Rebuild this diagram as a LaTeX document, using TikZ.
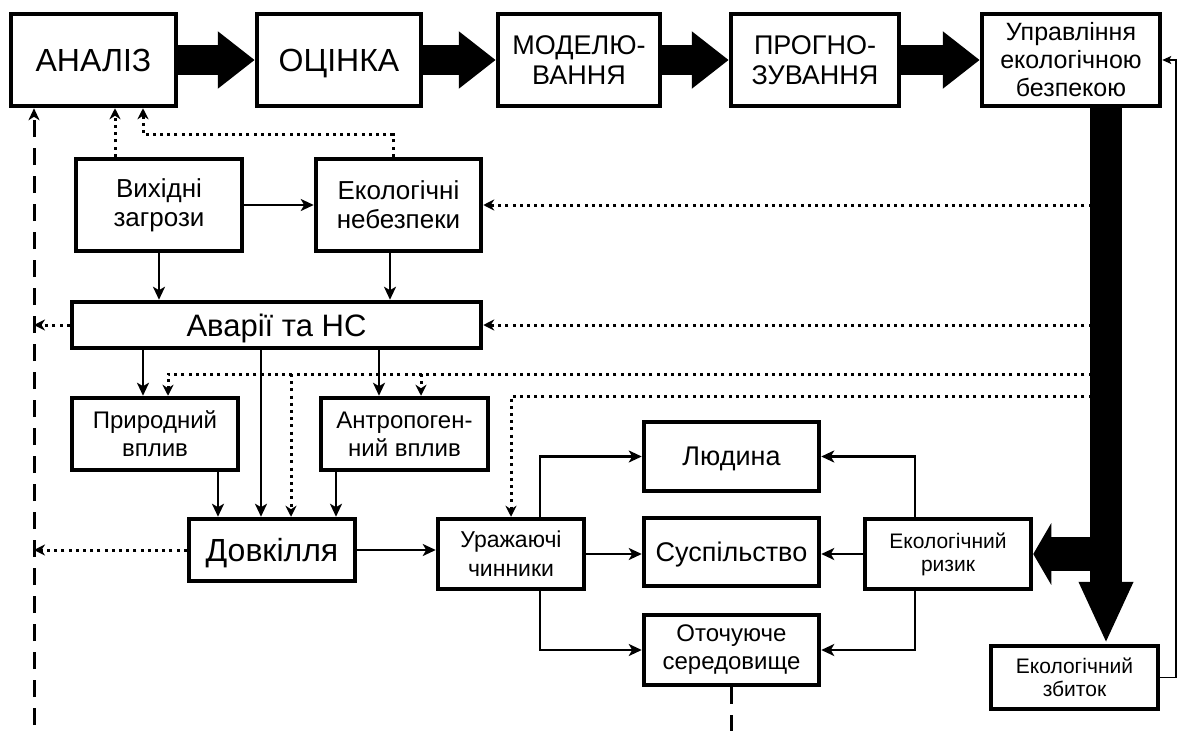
\documentclass[tikz,border=0pt]{standalone}
\usepackage{fontspec}
\setmainfont{Liberation Sans}
\usetikzlibrary{arrows.meta,calc}
\begin{document}
\begin{tikzpicture}[x=1pt,y=-1pt,
 box/.style={draw,line width=4.5pt,align=center,inner sep=0pt},
 one/.style={text depth=0pt},
 fs/.style 2 args={font=\fontsize{#1}{#2}\selectfont},
 arr/.style={line width=2.6pt,-{Stealth[length=13pt,width=12pt,inset=3.5pt]}},
 dotarr/.style={line width=3pt,dash pattern=on 3pt off 4.2pt,-{Stealth[length=11pt,width=11pt,inset=3.5pt]}},
 dashln/.style={line width=3pt,dash pattern=on 17pt off 11pt},
 dasharr/.style={dashln,-{Stealth[length=12pt,width=11pt,inset=3.5pt]}},
 bigarr/.style={line width=30pt,-{Triangle[length=37pt,width=55pt]}},
 thinarr/.style={line width=1.6pt,-{Stealth[length=9pt,width=8pt,inset=2pt]}}
]
\useasboundingbox (0,0) rectangle (1178,731);
% top row
\node[box,one,fs={32}{36},minimum width=165,minimum height=92] (anal) at (93.5,60) {АНАЛІЗ};
\node[box,one,fs={32}{36},minimum width=164,minimum height=92] (ocin) at (339,60) {ОЦІНКА};
\node[box,fs={27}{30},minimum width=162,minimum height=92] (model) at (579,60) {МОДЕЛЮ-\\ВАННЯ};
\node[box,fs={27}{30},minimum width=168,minimum height=92] (prog) at (815,60) {ПРОГНО-\\ЗУВАННЯ};
\node[box,fs={25}{28},minimum width=178,minimum height=92] (upr) at (1071,60) {Управління\\екологічною\\безпекою};
% second level
\node[box,fs={26}{29},minimum width=166,minimum height=92] (vyh) at (159,205) {Вихідні\\загрози};
\node[box,fs={26}{29},minimum width=165,minimum height=92] (eknb) at (398.5,205) {Екологічні\\небезпеки};
\node[box,one,fs={31}{34},minimum width=409,minimum height=46] (avar) at (276.5,325) {Аварії та НС};
\node[box,fs={24}{28},minimum width=166,minimum height=72] (pryr) at (155,434) {Природний\\вплив};
\node[box,fs={24}{28},minimum width=167,minimum height=72] (antr) at (404.5,434) {Антропоген-\\ний вплив};
\node[box,one,fs={32}{36},minimum width=166,minimum height=62] (dovk) at (272,550) {Довкілля};
\node[box,fs={23}{29},minimum width=146,minimum height=70] (urazh) at (511,554) {Уражаючі\\чинники};
\node[box,one,fs={27}{30},minimum width=175,minimum height=69] (lyud) at (731.5,456.5) {Людина};
\node[box,one,fs={27}{30},minimum width=175,minimum height=68] (susp) at (731.5,552) {Суспільство};
\node[box,fs={24}{28},minimum width=175,minimum height=70] (otoch) at (731.5,650) {Оточуюче\\середовище};
\node[box,fs={21}{23},minimum width=166,minimum height=70] (ryzyk) at (948,554) {Екологічний\\ризик};
\node[box,fs={21}{23},minimum width=167,minimum height=63] (zbytok) at (1074.5,677.5) {Екологічний\\збиток};
% helper coordinates
\coordinate (xd) at (34,0);
\coordinate (dbot) at (34,725);
\coordinate (ybot) at (0,731);
\coordinate (x115) at (115,0);
\coordinate (x143) at (143,0);
\coordinate (x168) at (168,0);
\coordinate (x218) at (218,0);
\coordinate (x261) at (261,0);
\coordinate (x291) at (291,0);
\coordinate (x336) at (336,0);
\coordinate (x379) at (379,0);
\coordinate (x390) at (390,0);
\coordinate (x393) at (393,0);
\coordinate (x421) at (421,0);
\coordinate (x540) at (540,0);
\coordinate (x915) at (915,0);
\coordinate (barx) at (1106,0);
\coordinate (r374) at (1106,374);
\coordinate (r396) at (1106,396);
% big arrows along the top
\draw[bigarr] (anal.east) -- (ocin.west);
\draw[bigarr] (ocin.east) -- (model.west);
\draw[bigarr] (model.east) -- (prog.west);
\draw[bigarr] (prog.east) -- (upr.west);
% dashed feedback to АНАЛІЗ
\draw[dasharr] (dbot) -- (xd |- anal.south);
\draw[dashln] (otoch.south) -- (otoch.south |- ybot);
% dotted into АНАЛІЗ
\draw[dotarr] (x115 |- vyh.north) -- (x115 |- anal.south);
\draw[dotarr] (x393 |- eknb.north) -- ++(0,-22) -| (x143 |- anal.south);
% dotted from the bar
\draw[dotarr] (barx |- eknb.east) -- (eknb.east);
\draw[dotarr] (barx |- avar.east) -- (avar.east);
\draw[dotarr] (r374) -| (x168 |- pryr.north);
\draw[dotarr] (x421 |- r374) -- (x421 |- antr.north);
\draw[dotarr] (x291 |- r374) -- (x291 |- dovk.north);
\draw[dotarr] (r396) -| (urazh.north);
% dotted to the left
\draw[dotarr] (avar.west) -- (avar.west -| xd);
\draw[dotarr] (dovk.west) -- (dovk.west -| xd);
% solid connectors
\draw[arr] (vyh.east) -- (eknb.west);
\draw[arr] (vyh.south) -- (vyh.south |- avar.north);
\draw[arr] (x390 |- eknb.south) -- (x390 |- avar.north);
\draw[arr] (x143 |- avar.south) -- (x143 |- pryr.north);
\draw[arr] (x261 |- avar.south) -- (x261 |- dovk.north);
\draw[arr] (x379 |- avar.south) -- (x379 |- antr.north);
\draw[arr] (x218 |- pryr.south) -- (x218 |- dovk.north);
\draw[arr] (x336 |- antr.south) -- (x336 |- dovk.north);
\draw[arr] (dovk.east) -- (dovk.east -| urazh.west);
\draw[arr] (x540 |- urazh.north) |- (lyud.west);
\draw[arr] (urazh.east) -- (urazh.east -| susp.west);
\draw[arr] (x540 |- urazh.south) |- (otoch.west);
\draw[arr] (x915 |- ryzyk.north) |- (lyud.east);
\draw[arr] (ryzyk.west) -- (ryzyk.west -| susp.east);
\draw[arr] (x915 |- ryzyk.south) |- (otoch.east);
% big vertical bar and branch
\draw[line width=32pt,-{Triangle[length=62pt,width=50pt]}] (barx |- upr.south) -- (barx |- zbytok.north);
\draw[line width=34pt,-{Triangle[length=18pt,width=61pt]}] (barx |- ryzyk.east) -- (ryzyk.east);
% feedback from збиток to управління
\draw[thinarr] (zbytok.east) -- ++(16,0) |- (upr.east);
\end{tikzpicture}
\end{document}
